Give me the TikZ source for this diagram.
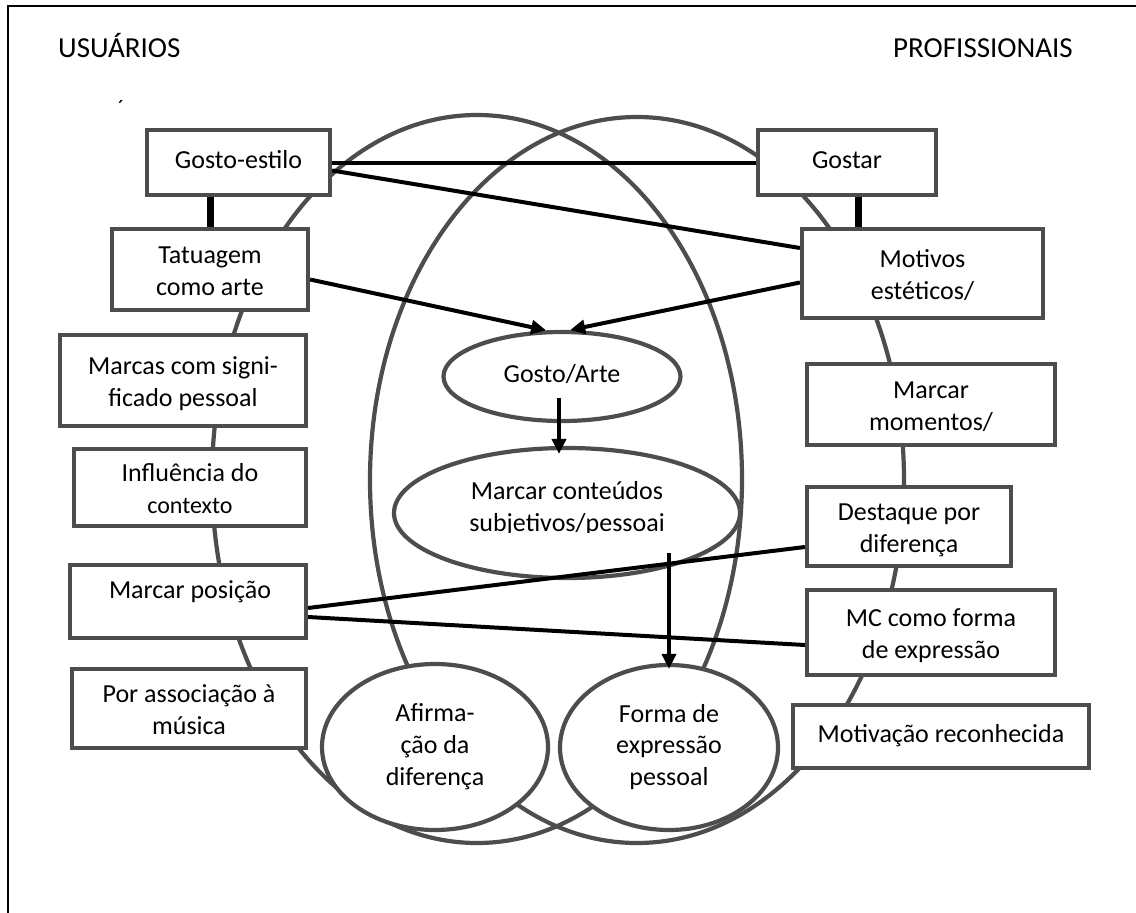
\documentclass[tikz,border=0pt]{standalone}
\usepackage{fontspec}
\setmainfont{Carlito}
\usetikzlibrary{shapes.geometric,arrows.meta,calc}
\definecolor{edgegray}{HTML}{4D4D4D}
\newcommand\tsx{\rule{0pt}{30pt}}
\newcommand\bsx{\rule[-9.5pt]{0pt}{9.5pt}}
\begin{document}
\begin{tikzpicture}[x=1pt,y=-1pt,
  txt/.style={font=\fontsize{26}{31.7}\selectfont, align=center, inner sep=0pt},
  title/.style={font=\fontsize{29}{34}\selectfont, inner sep=0pt},
  box/.style={txt, draw=edgegray, line width=4.2pt, fill=white, rectangle},
  ell/.style={txt, draw=edgegray, line width=4.2pt, fill=white, ellipse},
  group/.style={draw=edgegray, line width=4.2pt},
  link/.style={draw=black, line width=4pt},
  heavy/.style={draw=black, line width=7pt},
  arr/.style={link, -{Triangle[length=15pt,width=14pt]}},
  frame/.style={draw=black, line width=2pt}
]
\useasboundingbox (0,0) rectangle (1136,913);
\draw[frame] (8,913) -- (8,6) -- (1136,6);

% titles
\node[title, anchor=base west] (usu) at (58,57) {USUÁRIOS};
\node[title, anchor=base east] (pro) at (1073,57) {PROFISSIONAIS};
\node[inner sep=0pt, font=\fontsize{22}{22}\selectfont] (acc) at (121,108) {´};

% large group ellipses
\draw[group] (477,479) ellipse [x radius=265, y radius=364];
\draw[group] (637,480) ellipse [x radius=267, y radius=363];

% left boxes
\node[box, minimum width=183pt, minimum height=65pt] (ge) at (238.5,162.5) {Gosto-estilo\strut};
\node[box, minimum width=196pt, minimum height=81pt] (tat) at (210,269.5) {\tsx Tatuagem\\como arte\bsx};
\node[box, minimum width=246pt, minimum height=91pt] (mar) at (183,380.5) {\tsx Marcas com signi-\\ficado pessoal\bsx};
\node[box, minimum width=232pt, minimum height=77pt] (inf) at (190,487.5) {\tsx Influência do\\{\fontsize{24}{29}\selectfont contexto}\bsx};
\node[box, minimum width=236pt, minimum height=73pt] (mp) at (188,601.5) {};
\node[txt] (mpt) at (190,592) {Marcar posição\strut};
\node[box, minimum width=234pt, minimum height=79pt] (pa) at (189,708.5) {\tsx Por associação à\\música\bsx};

% right boxes
\node[box, minimum width=178pt, minimum height=65pt] (gs) at (847,162.5) {Gostar\strut};
\node[box, minimum width=241pt, minimum height=89pt] (mot) at (922.5,273.5) {\tsx Motivos\\estéticos/\bsx};
\node[box, minimum width=248pt, minimum height=81pt] (mm) at (931,404.5) {\tsx Marcar\\momentos/\bsx};
\node[box, minimum width=204pt, minimum height=79pt] (des) at (909,526.5) {\tsx Destaque por\\diferença\bsx};
\node[box, minimum width=248pt, minimum height=85pt] (mc) at (931,632.5) {\tsx MC como forma\\de expressão\bsx};
\node[box, minimum width=296pt, minimum height=63pt] (mr) at (941,736.5) {Motivação reconhecida\strut};

% inner ellipses
\node[ell, minimum width=237pt, minimum height=89pt] (ga) at (562,376.5) {Gosto/Arte\strut};
\node[ell, minimum width=346pt, minimum height=130pt] (mcs) at (567,513) {};
\begin{scope}
  \clip (380,440) rectangle (760,532);
  \node[txt] (mct) at (567,509) {Marcar conteúdos\strut\\subjetivos/pessoai\strut};
\end{scope}
\node[ell, minimum width=226pt, minimum height=166pt] (af) at (435,747) {Afirma-\strut\\ção da\strut\\diferença\strut};
\node[ell, minimum width=218pt, minimum height=165pt] (fo) at (669,747.5) {Forma de\strut\\expressão\strut\\pessoal\strut};

% connectors
\draw[link] (ge.east) -- (gs.west);
\draw[link] ($(ge.east)+(0,8)$) -- ($(mot.west)+(0,-25.5)$);
\draw[heavy] (ge.south -| tat.north) -- (tat.north);
\coordinate (gsb) at ($(gs.south)+(11,0)$);
\draw[heavy] (gsb) -- (gsb |- mot.north);
\draw[arr] ($(tat.east)+(0,10)$) -- (ga.109);
\draw[arr] ($(mot.west)+(0,9)$) -- (ga.80);
\draw[arr] ($(ga.center)+(-3,21)$) -- ($(mcs.north)+(-8,8)$);
\draw[arr] ($(mcs.center)+(102,40)$) -- ($(fo.north)+(0,6)$);
\draw[link] ($(mp.east)+(0,6.5)$) -- ($(des.west)+(0,20.5)$);
\draw[link] ($(mp.east)+(0,15.5)$) -- ($(mc.west)+(0,12.5)$);
\end{tikzpicture}
\end{document}
